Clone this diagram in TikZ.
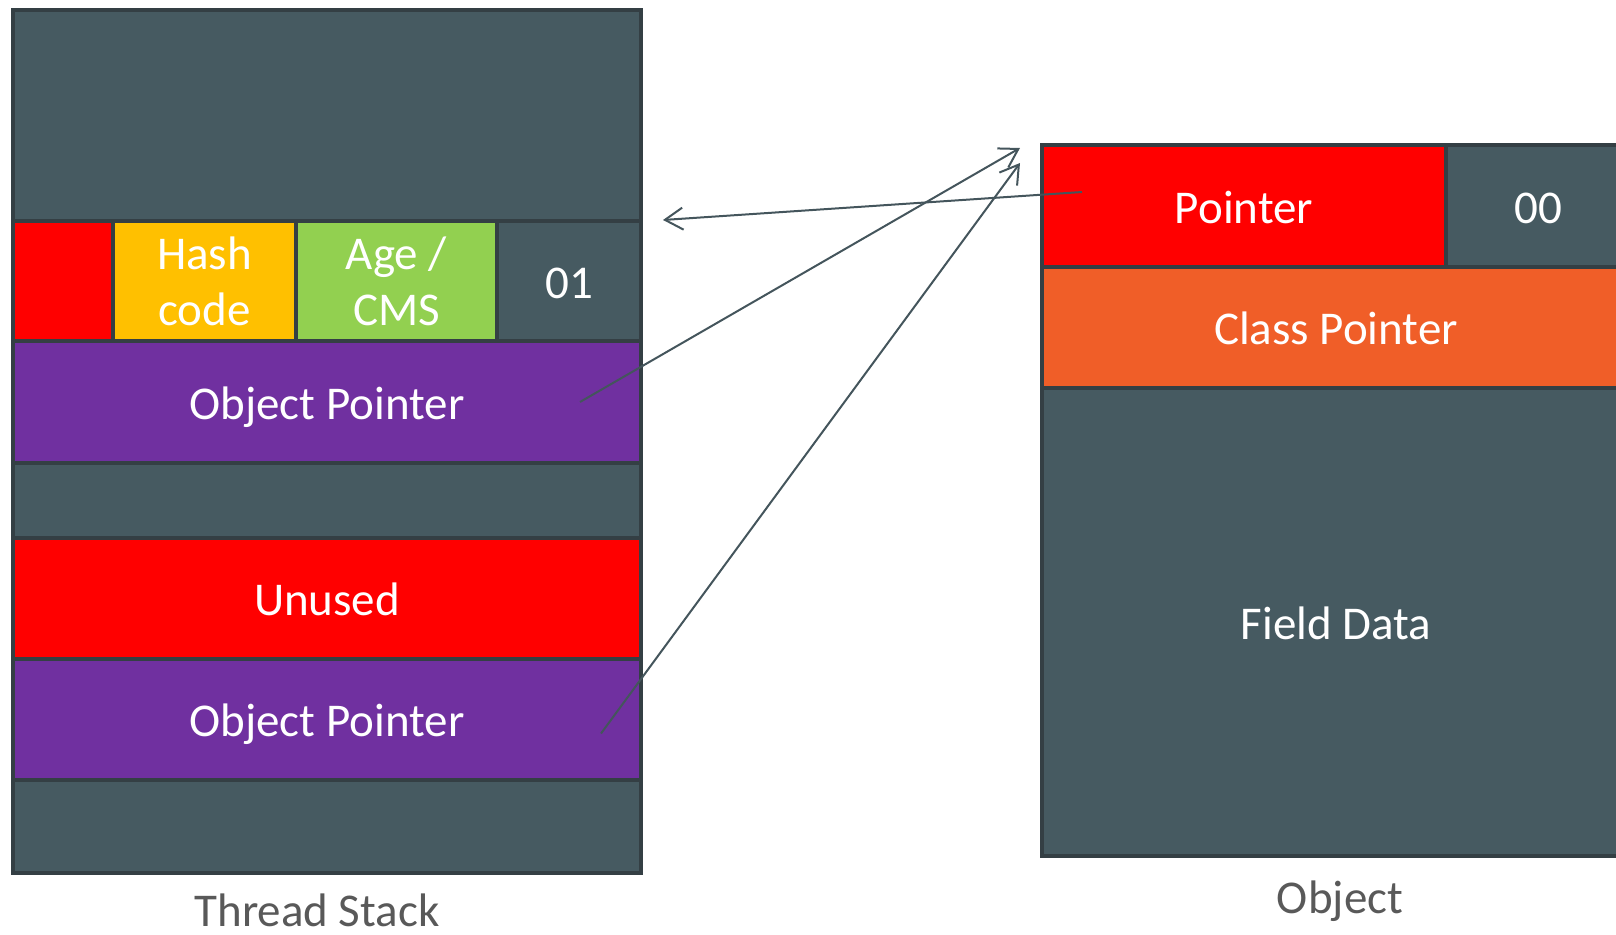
\documentclass[tikz,border=0pt]{standalone}
\usepackage{fontspec}
\setmainfont{Carlito}
\usetikzlibrary{positioning, arrows.meta, calc}

\definecolor{slot}{HTML}{465A61}
\definecolor{rim}{HTML}{343F44}
\definecolor{wire}{HTML}{44555C}
\definecolor{lockred}{HTML}{FF0000}
\definecolor{hashgold}{HTML}{FFC000}
\definecolor{agegreen}{HTML}{92D050}
\definecolor{ptrpurple}{HTML}{7030A0}
\definecolor{klassorange}{HTML}{F05E28}
\definecolor{captiongray}{HTML}{595959}

\begin{document}
\begin{tikzpicture}[
  x=1pt, y=-1pt,
  cell/.style={draw=rim, line width=4pt, fill=slot, anchor=north west,
               inner sep=0pt, outer sep=0pt, align=center, text=white,
               text height=40pt, text depth=6pt,
               font=\fontsize{47}{56}\selectfont},
  twoline/.style={text height=, text depth=},
  ptr/.style={draw=wire, line width=2pt,
              -{Straight Barb[length=18pt, width=22pt, line width=2pt]}},
  caption/.style={text=captiongray, inner sep=0pt,
                  font=\fontsize{47}{56}\selectfont}]

\useasboundingbox (0,0) rectangle (1616,934);
\clip (0,0) rectangle (1616,934);

% thread stack, top to bottom
\node[cell, minimum width=628pt, minimum height=211pt] (stacktop) at (13,10) {};
\node[cell, fill=lockred, minimum width=100pt, minimum height=120pt] (lock) at (13,221) {};
\node[cell, twoline, fill=hashgold, minimum width=183pt, minimum height=120pt,
      anchor=west, right=0pt of lock] (hash) {Hash\\code};
\node[cell, twoline, fill=agegreen, minimum width=201pt, minimum height=120pt,
      anchor=west, right=0pt of hash] (age) {Age /\\CMS};
\node[cell, minimum width=144pt, minimum height=120pt,
      anchor=west, right=0pt of age] (tagA) {01};
\node[cell, fill=ptrpurple, minimum width=628pt, minimum height=122pt] (objptrA) at (13,341) {Object Pointer};
\node[cell, minimum width=628pt, minimum height=75pt] (gap) at (13,463) {};
\node[cell, fill=lockred, minimum width=628pt, minimum height=121pt] (unused) at (13,538) {Unused};
\node[cell, fill=ptrpurple, minimum width=628pt, minimum height=121pt] (objptrB) at (13,659) {Object Pointer};
\node[cell, minimum width=628pt, minimum height=93pt] (stackbottom) at (13,780) {};
\node[caption] (stacklabel) at (317,910) {Thread Stack};

% object on the heap
\node[cell, fill=lockred, minimum width=404pt, minimum height=122pt] (pointer) at (1042,145) {Pointer};
\node[cell, minimum width=184pt, minimum height=122pt,
      anchor=west, right=0pt of pointer] (tagB) {00};
\node[cell, fill=klassorange, minimum width=588pt, minimum height=121pt] (klass) at (1042,267) {Class Pointer};
\node[cell, minimum width=588pt, minimum height=468pt] (fields) at (1042,388) {Field Data};
\node[caption] (objlabel) at (1340,901) {Object};

% arrow ends
\coordinate (headtip) at ($(tagA.north east)+(22,-1)$);
\coordinate (pointersrc) at ($(pointer.north west)+(40,47)$);
\coordinate (objsrcA) at ($(objptrA.east)+(-61,0)$);
\coordinate (objsrcB) at ($(objptrB.east)+(-40,14)$);
\coordinate (objtipA) at ($(pointer.north west)+(-22,3)$);
\coordinate (objtipB) at ($(pointer.north west)+(-22,18)$);

\draw[ptr] (pointersrc) -- (headtip);
\draw[ptr] (objsrcA) -- (objtipA);
\draw[ptr] (objsrcB) -- (objtipB);
\end{tikzpicture}
\end{document}
